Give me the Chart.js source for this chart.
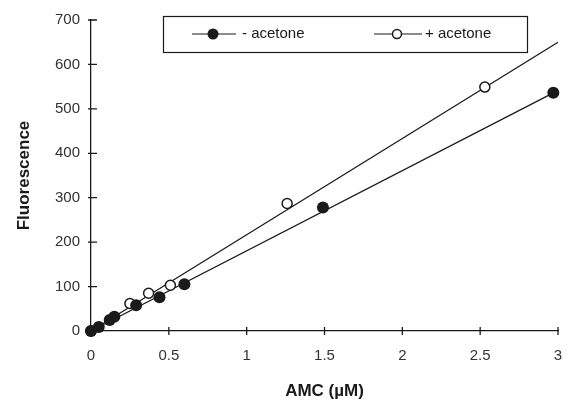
<!DOCTYPE html>
<html>
<head>
<meta charset="utf-8">
<script src="https://cdn.jsdelivr.net/npm/chart.js@4"></script>
<style>
  html, body { margin: 0; padding: 0; background: #fff; }
  #wrap { width: 572px; height: 402px; }
</style>
</head>
<body>
<div id="wrap"><canvas id="amcChart" width="572" height="402"></canvas></div>
<script>
// measured points, - acetone (filled) and + acetone (open)
var minusX = [0, 0.05, 0.12, 0.15, 0.29, 0.44, 0.6, 1.49, 2.97];
var minusY = [0, 9, 25, 32, 58, 76, 105, 278, 536];
var plusX = [0, 0.25, 0.37, 0.51, 1.26, 2.53];
var plusY = [0, 62, 85, 103, 287, 549];

// regression lines (end points)
var minusFitX = [0, 2.97];
var minusFitY = [0, 536];
var plusFitX = [0, 3];
var plusFitY = [0, 650];

var xTicks = [0, 0.5, 1, 1.5, 2, 2.5, 3];
var yTicks = [0, 100, 200, 300, 400, 500, 600, 700];
var seriesLabels = ['- acetone', '+ acetone'];

var ink = '#1a1a1a';
var font = '"Liberation Sans", Arial, sans-serif';

function toPoints(xs, ys) {
    return xs.map(function(x, i) { return { x: x, y: ys[i] }; });
}

// ticks that cross the axis line, and the boxed legend inside the plot
var axisDecor = {
    id: 'axisDecor',
    afterDraw: function(chart) {
        var ctx = chart.ctx;
        var xs = chart.scales.x, ys = chart.scales.y;
        var x0 = xs.getPixelForValue(0), y0 = ys.getPixelForValue(0);
        ctx.save();
        ctx.strokeStyle = ink;
        ctx.lineWidth = 1.3;
        ctx.beginPath();
        yTicks.forEach(function(v) {
            var p = ys.getPixelForValue(v);
            ctx.moveTo(x0 - 3, p); ctx.lineTo(x0 + 6, p);
        });
        xTicks.forEach(function(v) {
            var p = xs.getPixelForValue(v);
            ctx.moveTo(p, y0 - 4); ctx.lineTo(p, y0 + 4);
        });
        ctx.stroke();

        // legend box
        ctx.lineWidth = 1.2;
        ctx.strokeRect(163.5, 16.5, 364, 36);
        var ly = 34;
        ctx.font = '15px ' + font;
        ctx.fillStyle = ink;
        ctx.textBaseline = 'middle';
        // - acetone
        ctx.beginPath(); ctx.moveTo(192, ly); ctx.lineTo(236, ly); ctx.stroke();
        ctx.beginPath(); ctx.arc(213, ly, 5.5, 0, Math.PI * 2); ctx.fill();
        ctx.fillText(seriesLabels[0], 242, ly);
        // + acetone
        ctx.beginPath(); ctx.moveTo(374, ly); ctx.lineTo(422, ly); ctx.stroke();
        ctx.beginPath(); ctx.arc(397, ly, 4.5, 0, Math.PI * 2);
        ctx.fillStyle = '#fff'; ctx.fill();
        ctx.lineWidth = 1.5; ctx.stroke();
        ctx.fillStyle = ink;
        ctx.fillText(seriesLabels[1], 425, ly);
        ctx.restore();
    }
};

var ctx = document.getElementById('amcChart').getContext('2d');
// dataset 0 is drawn on top, so markers come first and fit lines last
var amcChart = new Chart(ctx, {
    type: 'scatter',
    data: {
        datasets: [
            {
                label: seriesLabels[0],
                data: toPoints(minusX, minusY),
                pointRadius: 6,
                pointBackgroundColor: ink,
                pointBorderColor: ink,
                pointBorderWidth: 0,
                clip: false
            },
            {
                label: seriesLabels[1],
                data: toPoints(plusX, plusY),
                pointRadius: 5,
                pointBackgroundColor: '#fff',
                pointBorderColor: ink,
                pointBorderWidth: 1.5,
                clip: false
            },
            {
                label: 'fit +',
                data: toPoints(plusFitX, plusFitY),
                showLine: true,
                borderColor: ink,
                borderWidth: 1.3,
                pointRadius: 0,
                clip: false
            },
            {
                label: 'fit -',
                data: toPoints(minusFitX, minusFitY),
                showLine: true,
                borderColor: ink,
                borderWidth: 1.3,
                pointRadius: 0,
                clip: false
            }
        ]
    },
    options: {
        responsive: false,
        animation: false,
        layout: { padding: { left: 0, right: 14, top: 19, bottom: 0 } },
        plugins: {
            legend: { display: false },
            tooltip: { enabled: false }
        },
        scales: {
            x: {
                type: 'linear',
                min: 0,
                max: 3,
                afterBuildTicks: function(s) { s.ticks = xTicks.map(function(v) { return { value: v }; }); },
                afterFit: function(s) { s.height = 71; s.paddingRight = 0; s.paddingLeft = 0; },
                grid: { display: false, drawTicks: false },
                border: { display: true, color: ink, width: 1.3 },
                ticks: {
                    maxRotation: 0,
                    padding: 16,
                    color: '#333',
                    font: { family: font, size: 15 },
                    callback: function(v) { return String(v); }
                },
                title: {
                    display: true,
                    text: 'AMC (µM)',
                    color: ink,
                    font: { family: font, size: 17, weight: 'bold' },
                    padding: { top: 4, bottom: 0 }
                }
            },
            y: {
                type: 'linear',
                min: 0,
                max: 700,
                afterBuildTicks: function(s) { s.ticks = yTicks.map(function(v) { return { value: v }; }); },
                afterFit: function(s) { s.width = 91; },
                grid: { display: false, drawTicks: false },
                border: { display: true, color: ink, width: 1.3 },
                ticks: {
                    padding: 11,
                    color: '#333',
                    font: { family: font, size: 15 }
                },
                title: {
                    display: true,
                    text: 'Fluorescence',
                    color: ink,
                    font: { family: font, size: 17, weight: 'bold' },
                    padding: { top: 14, bottom: 0 }
                }
            }
        }
    },
    plugins: [axisDecor]
});
</script>
</body>
</html>
